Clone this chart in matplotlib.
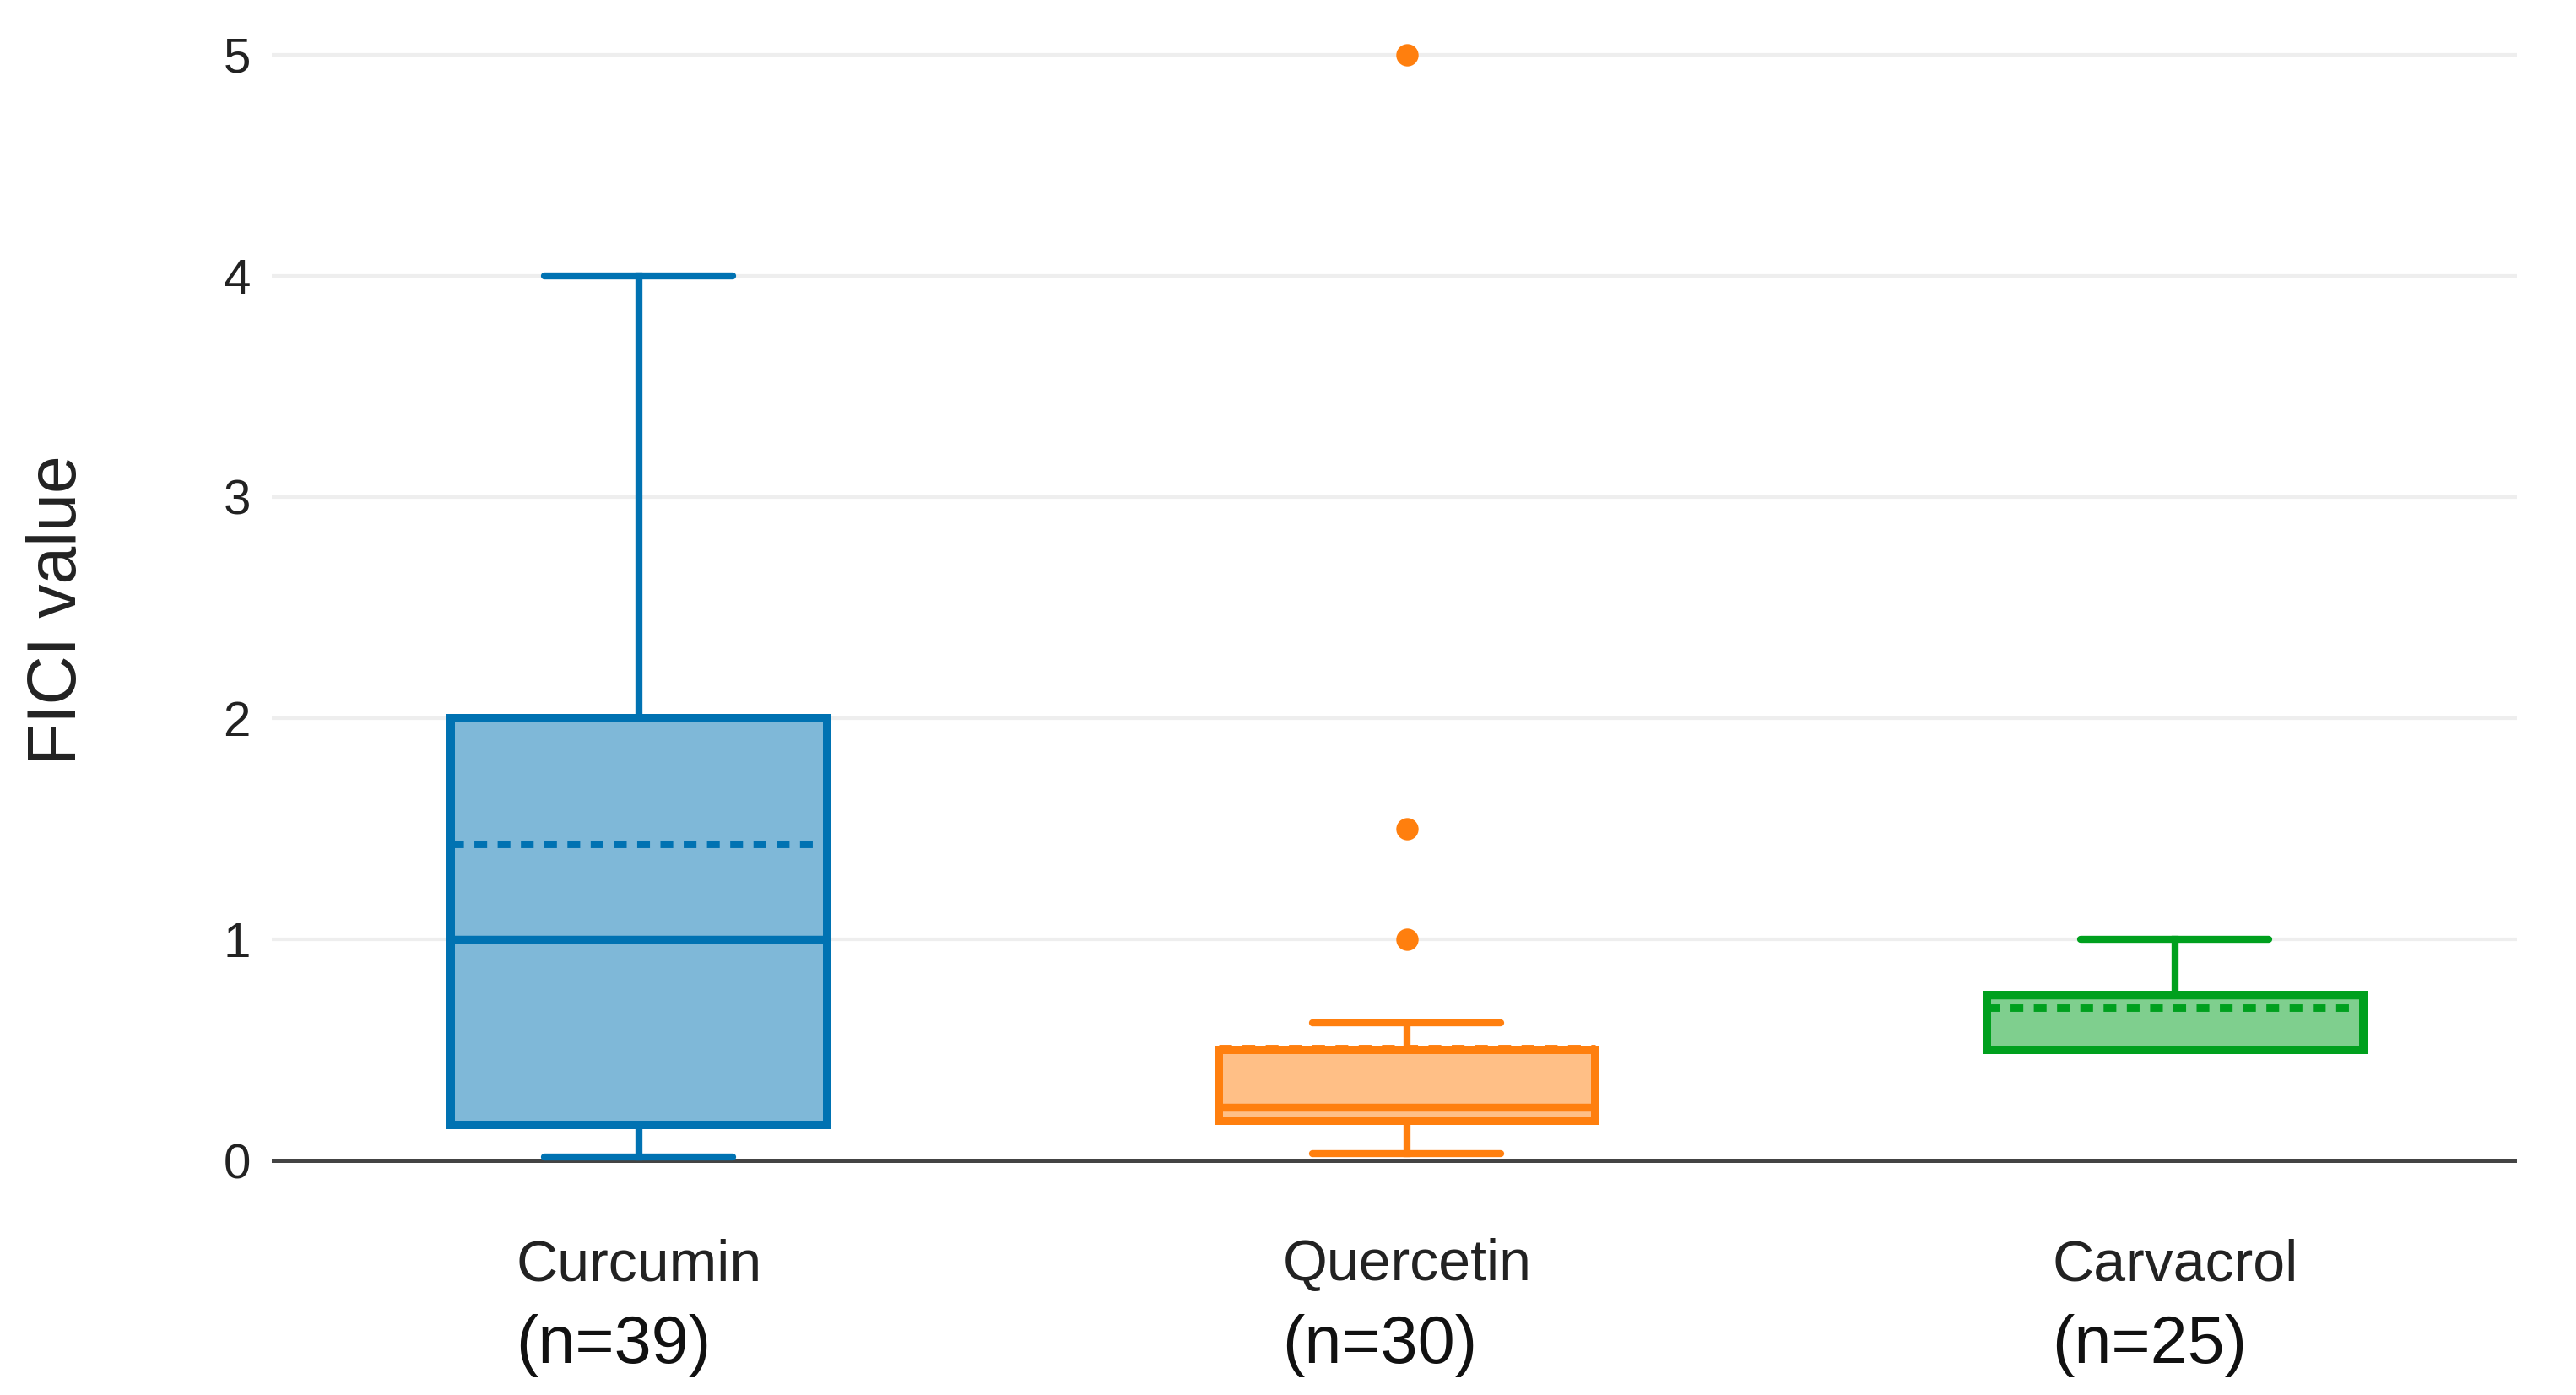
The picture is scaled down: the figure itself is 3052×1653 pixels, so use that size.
import matplotlib
matplotlib.use("Agg")
import matplotlib.pyplot as plt
import matplotlib.transforms as mtrans

# ---- data ----
categories = ["Curcumin", "Quercetin", "Carvacrol"]
n_labels = ["(n=39)", "(n=30)", "(n=25)"]
q1 = [0.16, 0.18, 0.50]
median = [1.00, 0.24, 0.75]
q3 = [2.00, 0.50, 0.75]
whisker_low = [0.015, 0.03, 0.50]
whisker_high = [4.00, 0.625, 1.00]
means = [1.43, 0.51, 0.69]
outliers = [[], [1.0, 1.5, 5.0], []]
yticks = [0, 1, 2, 3, 4, 5]

edge_colors = ["#0072b2", "#ff7f0e", "#00a01e"]
fill_colors = ["#7fb8d8", "#ffbf86", "#7fcf8e"]

plt.rcParams['font.family'] = ['Liberation Sans', 'DejaVu Sans']

fig = plt.figure(figsize=(15.26, 8.265), dpi=200)
ax = fig.add_axes([0.1055, 0.1521, 0.977 - 0.1055, 0.9927 - 0.1521])

ax.set_xlim(-0.478, 2.445)
ax.set_ylim(-0.1, 5.2)

for y in yticks[1:]:
    ax.axhline(y, color="#eeeeee", lw=1.5, zorder=0)
ax.axhline(0, color="#444444", lw=1.8, zorder=1)

for i in range(len(categories)):
    stats = [dict(q1=q1[i], med=median[i], q3=q3[i], whislo=whisker_low[i],
                  whishi=whisker_high[i], mean=means[i], fliers=outliers[i])]
    ec = edge_colors[i]
    ax.bxp(stats, positions=[i], widths=0.49, patch_artist=True,
           showmeans=True, meanline=True, showfliers=True,
           boxprops=dict(facecolor=fill_colors[i], edgecolor=ec, linewidth=3.6),
           medianprops=dict(color=ec, linewidth=3.4),
           meanprops=dict(color=ec, linewidth=3.2, linestyle=(0, (1.7, 1.4))),
           whiskerprops=dict(color=ec, linewidth=3.0),
           capprops=dict(color=ec, linewidth=3.0, solid_capstyle='round'),
           capwidths=0.245,
           flierprops=dict(marker='o', markerfacecolor=ec, markeredgecolor=ec,
                           markersize=8.5, linestyle='none'),
           manage_ticks=False, zorder=3)

for s in ax.spines.values():
    s.set_visible(False)
ax.set_yticks(yticks)
ax.set_yticklabels([str(v) for v in yticks])
ax.tick_params(axis='y', length=0, pad=9, labelsize=21, labelcolor="#222222")
ax.set_xticks([])

fig.text(0.0225, 0.563, "FICI value", rotation=90, ha='center', va='center',
         fontsize=29, color="#222222")

trans = mtrans.blended_transform_factory(ax.transData, fig.transFigure)
fig.canvas.draw()
renderer = fig.canvas.get_renderer()
for i, (c, n) in enumerate(zip(categories, n_labels)):
    t1 = ax.text(i, 0.082, c, transform=trans, ha='center', va='baseline',
                 fontsize=24.5, color="#222222")
    bb = t1.get_window_extent(renderer=renderer)
    x0_fig = bb.x0 / fig.bbox.width
    fig.text(x0_fig, 0.023, n, ha='left', va='baseline', fontsize=28.5,
             color="#111111")

fig.savefig("out.png", dpi=200)
